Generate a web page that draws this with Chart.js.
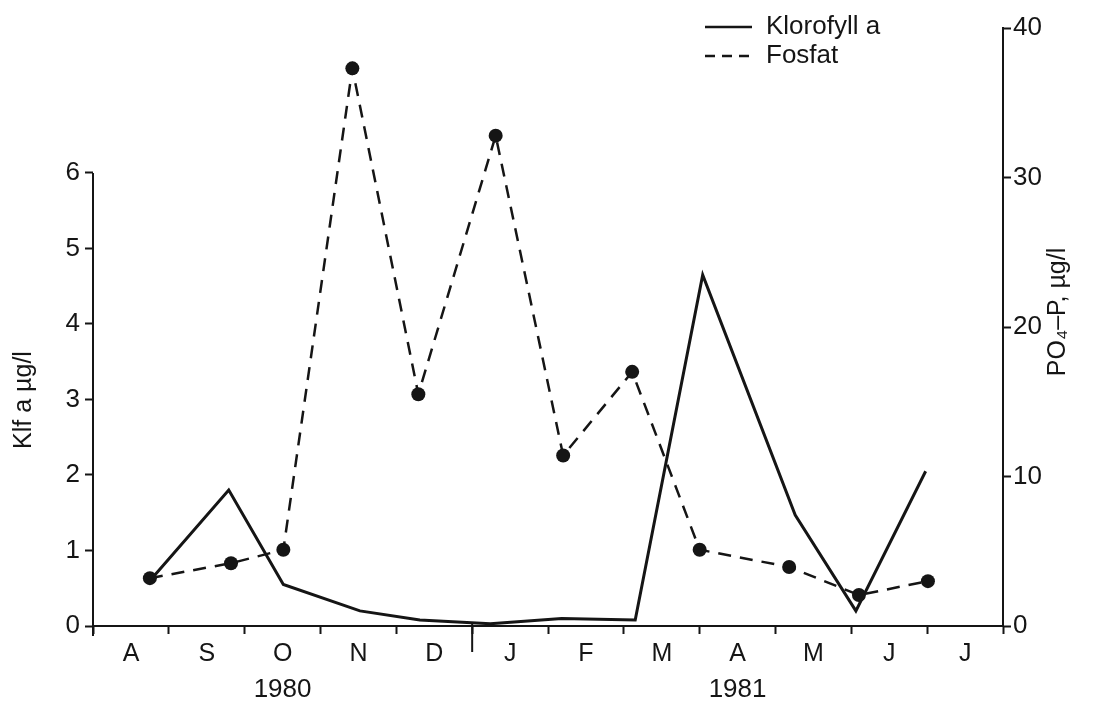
<!DOCTYPE html>
<html>
<head>
<meta charset="utf-8">
<script src="https://cdn.jsdelivr.net/npm/chart.js@4.4.0/dist/chart.umd.min.js"></script>
<style>
  html, body { margin: 0; padding: 0; background: #fff; }
</style>
</head>
<body>
<canvas id="chart" width="1099" height="708"></canvas>
<script>
// months Aug 1980 .. Jul 1981, x = months since 1 Aug 1980
const months = ['A', 'S', 'O', 'N', 'D', 'J', 'F', 'M', 'A', 'M', 'J', 'J']
const yearLabels = ['1980', '1981']
const yearAt = [2.5, 8.5]
const leftTicks = [0, 1, 2, 3, 4, 5, 6]
const rightTicks = [0, 10, 20, 30, 40]

// Klorofyll a, µg/l (left axis)
const klfMonth = [0.75, 1.79, 2.51, 3.52, 4.31, 5.24, 6.18, 7.15, 8.04, 9.26, 10.06, 10.98]
const klfValue = [0.6, 1.8, 0.55, 0.2, 0.08, 0.03, 0.1, 0.08, 4.65, 1.47, 0.2, 2.05]

// Fosfat PO4-P, µg/l (right axis)
const fosMonth = [0.75, 1.82, 2.51, 3.42, 4.29, 5.31, 6.2, 7.11, 8.0, 9.18, 10.1, 11.01]
const fosValue = [3.2, 4.2, 5.1, 37.3, 15.5, 32.8, 11.4, 17.0, 5.1, 3.95, 2.07, 3.0]

const ink = '#151515'
const font = '"Liberation Sans", Arial, sans-serif'

const toPoints = (xs, ys) => xs.map((x, i) => ({x: x, y: ys[i]}))

// extra drawing: left axis line (only up to 6), year tick, years, titles, legend
const extras = {
    id: 'extras',
    afterDraw(chart) {
        const {ctx, chartArea, scales} = chart
        const x = scales.x, yl = scales.y
        ctx.save()
        ctx.strokeStyle = ink
        ctx.fillStyle = ink
        ctx.lineWidth = 2

        // left axis line from 6 down past the x axis
        ctx.beginPath()
        ctx.moveTo(chartArea.left, yl.getPixelForValue(leftTicks[leftTicks.length - 1]))
        ctx.lineTo(chartArea.left, chartArea.bottom + 10)
        ctx.stroke()

        // long tick at the year change (Dec/Jan)
        const xj = x.getPixelForValue(5)
        ctx.beginPath()
        ctx.moveTo(xj, chartArea.bottom - 3)
        ctx.lineTo(xj, chartArea.bottom + 26)
        ctx.stroke()

        // year labels
        ctx.font = '26px ' + font
        ctx.textAlign = 'center'
        ctx.textBaseline = 'middle'
        yearLabels.forEach((t, i) => ctx.fillText(t, x.getPixelForValue(yearAt[i]), 690))

        // axis titles
        ctx.font = '25px ' + font
        ctx.save()
        ctx.translate(24, 400)
        ctx.rotate(-Math.PI / 2)
        ctx.fillText('Klf a µg/l', 0, 0)
        ctx.restore()
        ctx.save()
        ctx.translate(1058, 312)
        ctx.rotate(-Math.PI / 2)
        ctx.fillText('PO\u2084\u2013P, µg/l', 0, 0)
        ctx.restore()

        // legend
        ctx.font = '26px ' + font
        ctx.textAlign = 'left'
        const items = [
            {text: 'Klorofyll a', dash: [], y: 27},
            {text: 'Fosfat', dash: [10, 7], y: 56}
        ]
        items.forEach(it => {
            ctx.setLineDash(it.dash)
            ctx.lineWidth = 2.5
            ctx.beginPath()
            ctx.moveTo(705, it.y)
            ctx.lineTo(752, it.y)
            ctx.stroke()
            ctx.setLineDash([])
            ctx.fillText(it.text, 766, it.y)
        })
        ctx.restore()
    }
}

new Chart(document.getElementById('chart'), {
    type: 'line',
    data: {
        datasets: [{
            label: 'Klorofyll a',
            data: toPoints(klfMonth, klfValue),
            yAxisID: 'y',
            borderColor: ink,
            borderWidth: 3,
            pointRadius: 0,
            tension: 0
        }, {
            label: 'Fosfat',
            data: toPoints(fosMonth, fosValue),
            yAxisID: 'y2',
            borderColor: ink,
            borderWidth: 2.5,
            borderDash: [13, 9],
            pointRadius: 7,
            pointBackgroundColor: ink,
            pointBorderWidth: 0,
            tension: 0
        }]
    },
    options: {
        responsive: false,
        devicePixelRatio: 1,
        animation: false,
        layout: {padding: {top: 28, left: 0, right: 0, bottom: 0}},
        plugins: {legend: {display: false}, tooltip: {enabled: false}},
        scales: {
            x: {
                type: 'linear',
                position: 'bottom',
                min: 0,
                max: 12,
                afterFit: s => { s.height = 82 },
                border: {display: true, color: ink, width: 2},
                grid: {drawOnChartArea: false, color: ink, tickColor: ink, tickLength: 8, tickWidth: 2},
                ticks: {
                    stepSize: 1,
                    autoSkip: false,
                    maxRotation: 0,
                    labelOffset: 38,
                    padding: 5,
                    color: ink,
                    font: {family: font, size: 25},
                    callback: v => months[v] || ''
                }
            },
            y: {
                position: 'left',
                min: 0,
                max: 7.92,
                afterFit: s => { s.width = 93 },
                afterBuildTicks: s => { s.ticks = leftTicks.map(v => ({value: v})) },
                border: {display: false},
                grid: {drawOnChartArea: false, color: ink, tickColor: ink, tickLength: 8, tickWidth: 2},
                ticks: {padding: 5, color: ink, font: {family: font, size: 26}}
            },
            y2: {
                position: 'right',
                min: 0,
                max: 40,
                afterFit: s => { s.width = 96 },
                afterBuildTicks: s => { s.ticks = rightTicks.map(v => ({value: v})) },
                border: {display: true, color: ink, width: 2},
                grid: {drawOnChartArea: false, color: ink, tickColor: ink, tickLength: 8, tickWidth: 2},
                ticks: {padding: 2, color: ink, font: {family: font, size: 26}}
            }
        }
    },
    plugins: [extras]
})
</script>
</body>
</html>
